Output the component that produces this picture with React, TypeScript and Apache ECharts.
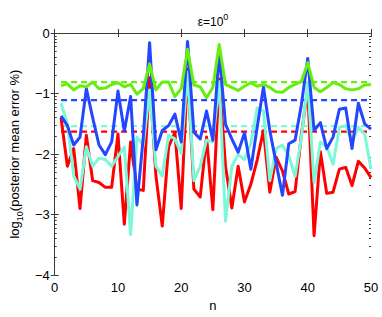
import React, { useEffect, useRef } from "react";
import * as echarts from "echarts";

const nValues = [
  1, 2, 3, 4, 5, 6, 7, 8, 9, 10, 11, 12, 13, 14, 15, 16, 17, 18, 19, 20, 21, 22, 23, 24, 25,
  26, 27, 28, 29, 30, 31, 32, 33, 34, 35, 36, 37, 38, 39, 40, 41, 42, 43, 44, 45, 46, 47, 48, 49, 50,
];

const redValues = [
  -1.4, -2.2, -1.91, -2.9, -1.69, -2.44, -2.47, -2.55, -2.55, -1.67,
  -3.16, -1.8, -2.58, -2.6, -0.74, -2.36, -3.19, -1.88, -1.64, -2.9,
  -0.6, -2.58, -2.71, -1.72, -2.92, -0.76, -2.2, -2.89, -2.2, -2.79,
  -2.5, -2.1, -1.61, -2.63, -2.05, -2.28, -2.66, -2.62, -1.67, -0.92,
  -3.35, -1.96, -2.65, -2.63, -2.25, -2.22, -2.52, -2.12, -2.23, -2.39,
];

const blueValues = [
  -1.37, -1.53, -1.85, -1.72, -0.92, -1.4, -1.85, -2.01, -1.8, -0.96,
  -1.62, -1.05, -2.84, -1.72, -0.16, -1.93, -1.61, -1.53, -1.34, -1.8,
  -0.14, -1.64, -1.75, -1.29, -1.77, -0.32, -1.51, -1.75, -1.97, -1.65,
  -2.25, -1.56, -0.89, -1.61, -2.15, -2.68, -1.83, -1.77, -1.18, -0.42,
  -1.61, -1.48, -1.91, -1.72, -1.26, -1.24, -1.91, -1.16, -1.5, -1.59,
];

const cyanValues = [
  -1.16, -1.5, -2.36, -2.58, -1.88, -2.2, -2.07, -2.09, -2.2, -2.04,
  -1.88, -3.33, -1.72, -1.85, -0.94, -2.2, -2.36, -1.69, -1.75, -1.99,
  -0.65, -2.44, -2.2, -1.77, -1.8, -0.8, -3.11, -2.2, -2.01, -2.09,
  -1.83, -1.24, -1.29, -2.44, -1.91, -1.85, -2.03, -2.37, -1.72, -0.81,
  -2.47, -1.8, -1.88, -2.17, -1.56, -1.53, -1.8, -1.56, -1.67, -2.25,
];

const greenValues = [
  -0.87, -0.84, -0.94, -0.87, -0.89, -0.81, -0.92, -0.91, -0.85, -0.82,
  -0.89, -0.85, -1.01, -0.92, -0.51, -0.94, -0.81, -0.81, -1.05, -0.92,
  -0.27, -0.86, -0.89, -1.07, -0.9, -0.19, -0.85, -0.9, -0.95, -0.88,
  -0.82, -0.88, -0.85, -0.9, -0.97, -0.98, -0.9, -0.85, -0.8, -0.49,
  -0.9, -0.97, -0.9, -0.82, -0.85, -0.92, -0.94, -0.92, -0.86, -0.85,
];

const meanValues = { red: -1.63, blue: -1.11, cyan: -1.54, green: -0.81 };

const xTicks = [0, 10, 20, 30, 40, 50];
const yTicks = [-4, -3, -2, -1, 0];
const minorMultipliers = [2, 3, 4, 5, 6, 7, 8, 9];

const COLORS = {
  red: "#ff0000",
  blue: "#2446ff",
  cyan: "#7cf7d8",
  green: "#66ee0e",
};

const FONT = "'Liberation Sans', Arial, Helvetica, sans-serif";
const AXIS_COLOR = "#3a3a3a";

function pairs(vals: number[]) {
  return nValues.map((n, i) => [n, vals[i]]);
}

function meanLine(v: number) {
  return [
    [nValues[0], v],
    [nValues[nValues.length - 1], v],
  ];
}

export default function App() {
  const ref = useRef<HTMLDivElement>(null);

  useEffect(() => {
    if (!ref.current) return;
    const chart = echarts.init(ref.current, null, { renderer: "svg" });

    const minorVals: number[] = [];
    for (let k = yTicks[0]; k < yTicks[yTicks.length - 1]; k++) {
      minorMultipliers.forEach((m) => minorVals.push(k + Math.log10(m)));
    }

    const fmt = (v: number) => String(v).replace("-", "\u2212");

    const baseY = {
      type: "value",
      min: yTicks[0],
      max: yTicks[yTicks.length - 1],
      interval: 1,
      splitLine: { show: false },
    };
    const baseX = {
      type: "value",
      min: xTicks[0],
      max: xTicks[xTicks.length - 1],
      interval: 10,
      splitLine: { show: false },
    };

    const solid = (name: string, vals: number[], color: string) => ({
      name,
      type: "line",
      data: pairs(vals),
      showSymbol: false,
      symbol: "none",
      lineStyle: { color, width: 3, join: "round" },
      itemStyle: { color },
      z: 3,
    });
    const dashed = (name: string, v: number, color: string) => ({
      name,
      type: "line",
      data: meanLine(v),
      showSymbol: false,
      symbol: "none",
      lineStyle: { color, width: 2.2, type: [6, 4] },
      z: 2,
    });

    chart.setOption({
      animation: false,
      backgroundColor: "#ffffff",
      textStyle: { fontFamily: FONT },
      title: {
        text: "{a|\u03b5=10}{sup|0}",
        left: 208,
        textAlign: "center",
        top: 7,
        textStyle: {
          fontWeight: "normal",
          rich: {
            a: { fontSize: 12, fontWeight: "normal", fontFamily: FONT, color: "#000", lineHeight: 16, verticalAlign: "bottom" },
            sup: { fontSize: 9, fontWeight: "normal", fontFamily: FONT, color: "#000", lineHeight: 16, verticalAlign: "bottom", padding: [0, 0, 7, 0] },
          },
        },
      },
      grid: { left: 47, right: 11, top: 33, bottom: 35, containLabel: false },
      xAxis: [
        {
          ...baseX,
          position: "bottom",
          name: "n",
          nameLocation: "middle",
          nameGap: 23,
          nameTextStyle: { fontSize: 13, color: "#000", fontFamily: FONT },
          axisLine: { show: true, lineStyle: { color: AXIS_COLOR, width: 1 } },
          axisTick: { show: true, inside: true, length: 4, lineStyle: { color: AXIS_COLOR } },
          axisLabel: { show: true, fontSize: 13, color: "#000", margin: 6, fontFamily: FONT },
        },
        {
          ...baseX,
          position: "top",
          axisLine: { show: true, lineStyle: { color: AXIS_COLOR, width: 1 } },
          axisTick: { show: true, inside: true, length: 4, lineStyle: { color: AXIS_COLOR } },
          axisLabel: { show: false },
        },
      ],
      yAxis: [
        {
          ...baseY,
          position: "left",
          name: "{a|log}{sub|10}{a|(posterior mean error %)}",
          nameLocation: "middle",
          nameGap: 30,
          nameRotate: 90,
          nameTextStyle: {
            rich: {
              a: { fontSize: 13, fontFamily: FONT, color: "#000", lineHeight: 16, verticalAlign: "top" },
              sub: { fontSize: 9, fontFamily: FONT, color: "#000", lineHeight: 16, verticalAlign: "top", padding: [7, 0, 0, 0] },
            },
          },
          axisLine: { show: true, lineStyle: { color: AXIS_COLOR, width: 1 } },
          axisTick: { show: true, inside: true, length: 4, lineStyle: { color: AXIS_COLOR } },
          axisLabel: { show: true, fontSize: 13, color: "#000", margin: 5, fontFamily: FONT, formatter: fmt },
        },
        {
          ...baseY,
          position: "right",
          axisLine: { show: true, lineStyle: { color: AXIS_COLOR, width: 1 } },
          axisTick: { show: true, inside: true, length: 4, lineStyle: { color: AXIS_COLOR } },
          axisLabel: { show: false },
        },
        {
          ...baseY,
          position: "left",
          axisLine: { show: false },
          axisTick: { show: true, inside: true, length: 2, customValues: minorVals, lineStyle: { color: AXIS_COLOR } },
          axisLabel: { show: false },
        },
        {
          ...baseY,
          position: "right",
          axisLine: { show: false },
          axisTick: { show: true, inside: true, length: 2, customValues: minorVals, lineStyle: { color: AXIS_COLOR } },
          axisLabel: { show: false },
        },
      ],
      series: [
        dashed("red mean", meanValues.red, COLORS.red),
        dashed("cyan mean", meanValues.cyan, COLORS.cyan),
        dashed("blue mean", meanValues.blue, COLORS.blue),
        dashed("green mean", meanValues.green, COLORS.green),
        solid("red", redValues, COLORS.red),
        solid("cyan", cyanValues, COLORS.cyan),
        solid("blue", blueValues, COLORS.blue),
        solid("green", greenValues, COLORS.green),
      ],
    });

    return () => chart.dispose();
  }, []);

  return <div ref={ref} style={{ width: 382, height: 317, position: "absolute", left: 0, top: 0 }} />;
}
